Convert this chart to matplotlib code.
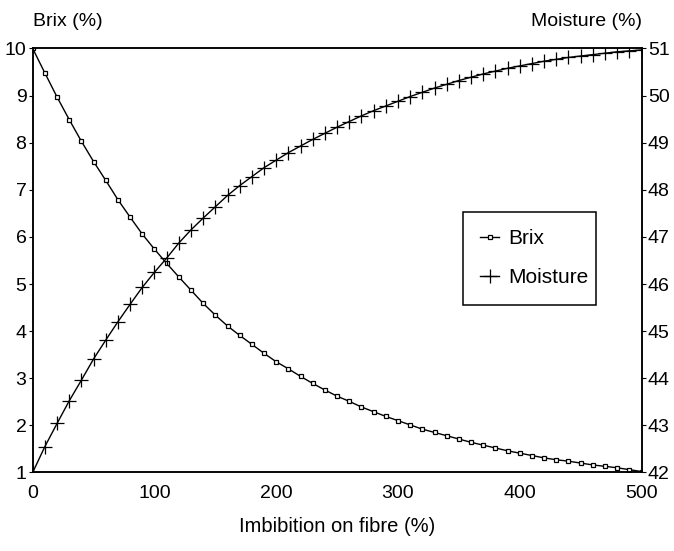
import matplotlib
matplotlib.use('Agg')
import matplotlib.pyplot as plt

plt.rcParams['font.family'] = ['Liberation Sans', 'DejaVu Sans']

imbibition = list(range(0, 501, 10))

brix = [10.0, 9.48, 8.97, 8.49, 8.03, 7.60, 7.20, 6.79, 6.42, 6.06,
        5.74, 5.44, 5.15, 4.87, 4.59, 4.34, 4.11, 3.91, 3.72, 3.53,
        3.35, 3.20, 3.04, 2.89, 2.75, 2.62, 2.51, 2.39, 2.29, 2.19,
        2.10, 2.01, 1.92, 1.85, 1.78, 1.71, 1.64, 1.58, 1.52, 1.46,
        1.41, 1.36, 1.31, 1.27, 1.24, 1.20, 1.16, 1.13, 1.10, 1.06,
        1.02]

moisture = [42.0, 42.55, 43.04, 43.52, 43.96, 44.41, 44.81, 45.20, 45.57, 45.93,
            46.25, 46.55, 46.87, 47.15, 47.40, 47.64, 47.88, 48.09, 48.28, 48.47,
            48.63, 48.79, 48.93, 49.07, 49.20, 49.33, 49.45, 49.57, 49.68, 49.78,
            49.88, 49.98, 50.07, 50.16, 50.24, 50.32, 50.39, 50.46, 50.52, 50.58,
            50.63, 50.68, 50.73, 50.77, 50.81, 50.84, 50.87, 50.90, 50.93, 50.95,
            50.97]

x_ticks = [0, 100, 200, 300, 400, 500]
brix_ticks = list(range(1, 11))
moisture_ticks = list(range(42, 52))

fig = plt.figure(figsize=(6.74, 5.51), dpi=100)
fig.subplots_adjust(left=0.0485, right=0.9518, bottom=0.1425, top=0.912)
ax = fig.add_subplot(111)
ax2 = ax.twinx()

l1, = ax.plot(imbibition, brix, color='black', lw=1.0, marker='s', ms=3.2,
              mfc='white', mec='black', mew=0.9, label='Brix')
l2, = ax2.plot(imbibition, moisture, color='black', lw=1.0, marker='+', ms=10,
               mew=0.9, label='Moisture')

ax.set_xlim(0, 500)
ax.set_ylim(1, 10)
ax2.set_ylim(42, 51)
ax.set_xticks(x_ticks)
ax.set_yticks(brix_ticks)
ax2.set_yticks(moisture_ticks)

for a in (ax, ax2):
    for s in a.spines.values():
        s.set_linewidth(1.1)
        s.set_color('black')
ax.tick_params(axis='x', length=0, pad=9, labelsize=14)
ax.tick_params(axis='y', length=3, width=0.8, pad=1.5, labelsize=14)
ax2.tick_params(axis='y', length=3, width=0.8, pad=1.5, labelsize=14)

ax.text(0, 1.0625, 'Brix (%)', transform=ax.transAxes, ha='left', va='center', fontsize=14)
ax.text(1, 1.0625, 'Moisture (%)', transform=ax.transAxes, ha='right', va='center', fontsize=14)
fig.text(0.5 * (0.0485 + 0.9518), 1 - 527 / 551, 'Imbibition on fibre (%)',
         ha='center', va='center', fontsize=14.5)

leg = fig.legend([l1, l2], ['Brix', 'Moisture'], loc='upper left',
                 bbox_to_anchor=(0.6865, 0.6158, 0.1975, 0.0), mode='expand',
                 borderaxespad=0, fontsize=15, numpoints=1, handlelength=0.9,
                 handletextpad=0.43, labelspacing=0.95, borderpad=0.85,
                 fancybox=False, framealpha=1)
leg.get_frame().set_edgecolor('black')
leg.get_frame().set_linewidth(1.1)

fig.savefig('out.png', dpi=100)
